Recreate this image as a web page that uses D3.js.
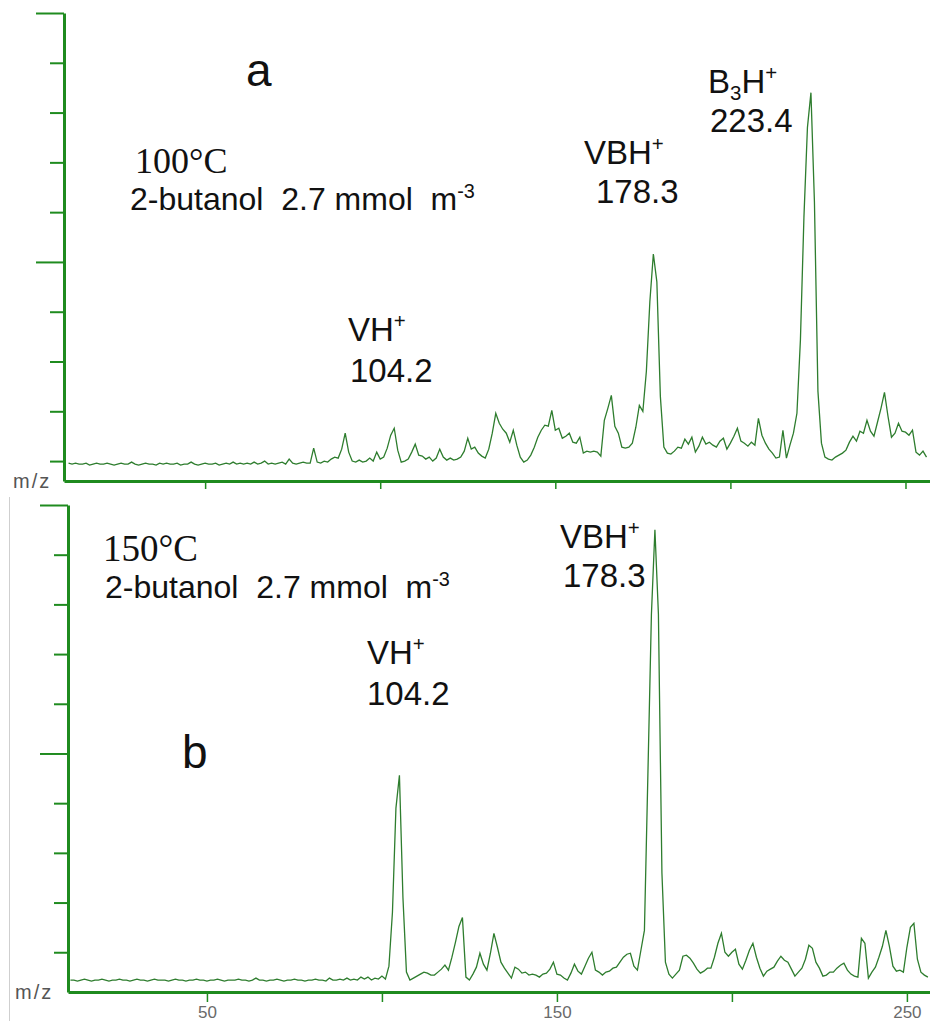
<!DOCTYPE html>
<html>
<head>
<meta charset="utf-8">
<script src="https://cdn.jsdelivr.net/npm/d3@7"></script>
<style>
body { margin: 0; background: #fff; }
svg { display: block; }
</style>
</head>
<body>
<script>
// m/z grid, one point per unit
var mzStart = 11, mzEnd = 256
var mz = d3.range(mzStart, mzEnd + 1)

// panel a, 100 C (arbitrary intensity units)
var trace100 = [
  1.8,1.7,1.8,1.7,1.7,1.8,1.6,1.7,1.8,1.7,
  1.7,1.8,1.7,1.6,1.7,1.8,1.7,1.7,1.9,1.7,
  1.6,1.7,1.8,1.7,1.7,1.6,1.8,1.7,1.8,1.7,
  1.7,1.8,1.6,1.7,1.7,1.9,1.7,1.6,1.7,1.8,
  1.7,1.7,1.8,1.6,1.7,1.8,1.7,1.9,1.7,1.8,
  1.7,1.8,1.7,1.9,1.7,1.8,2.0,1.7,1.8,1.7,
  1.8,1.9,1.7,2.2,1.8,1.7,1.8,1.9,1.8,1.8,
  3.3,1.9,1.8,2.0,1.9,2.2,2.4,2.3,3.2,4.8,
  2.9,2.0,1.9,2.1,1.9,2.0,2.3,2.0,2.9,2.2,
  2.4,3.3,4.6,5.3,3.1,1.9,2.0,2.2,2.9,3.7,
  2.6,2.5,2.2,2.4,2.0,2.3,3.2,2.4,2.1,2.3,
  2.1,2.2,2.4,3.0,4.3,3.2,3.4,2.8,2.5,2.3,
  3.2,4.8,6.8,5.8,5.2,4.8,3.9,5.1,3.6,2.4,
  1.9,2.1,2.6,3.4,4.4,5.1,5.6,5.5,7.1,5.1,
  5.3,4.3,4.5,4.8,3.9,3.8,4.4,2.8,3.0,2.9,
  3.0,2.9,2.5,6.1,7.3,8.6,5.5,4.8,3.4,3.3,
  3.4,3.8,5.4,7.6,7.0,11.0,18.0,22.8,20.0,8.5,
  3.4,2.8,2.7,3.0,3.4,3.3,4.2,3.7,4.4,2.9,
  3.5,4.4,3.7,3.9,3.6,3.4,4.0,4.3,3.2,3.8,
  4.5,5.3,4.0,3.8,3.5,3.9,3.6,6.3,4.6,3.8,
  3.2,2.8,2.3,2.4,5.1,2.3,3.6,4.8,6.8,14.2,
  26.5,35.5,39.0,28.0,9.0,3.8,2.4,2.2,2.1,2.4,
  2.6,2.8,3.1,3.9,4.5,4.0,5.0,4.8,6.1,5.0,
  4.5,5.9,7.3,8.9,6.5,4.4,4.8,5.8,5.0,4.9,
  4.6,5.1,2.9,2.6,3.0,2.4
]

// panel b, 150 C
var trace150 = [
  1.2,1.2,1.1,1.2,1.3,1.2,1.1,1.2,1.2,1.3,
  1.2,1.1,1.2,1.2,1.3,1.2,1.2,1.1,1.2,1.3,
  1.2,1.2,1.1,1.2,1.3,1.2,1.2,1.2,1.1,1.2,
  1.3,1.2,1.2,1.1,1.2,1.2,1.3,1.2,1.2,1.1,
  1.2,1.2,1.3,1.2,1.1,1.2,1.2,1.2,1.3,1.2,
  1.2,1.1,1.2,1.4,1.2,1.2,1.1,1.2,1.2,1.3,
  1.2,1.1,1.2,1.2,1.3,1.2,1.2,1.1,1.2,1.2,
  1.3,1.2,1.2,1.1,1.4,1.2,1.2,1.3,1.2,1.4,
  1.2,1.3,1.2,1.5,1.3,1.5,1.2,1.4,1.3,1.6,
  1.3,2.6,8.0,18.5,21.8,9.5,2.0,1.2,1.4,1.6,
  1.8,2.0,1.9,1.7,1.7,2.0,2.3,2.7,2.2,3.5,
  5.0,6.6,7.5,1.5,1.2,1.8,2.5,3.9,2.8,2.2,
  3.9,5.9,4.5,3.0,2.4,1.9,1.4,2.5,2.3,1.9,
  2.0,1.7,1.8,1.7,1.5,1.8,1.9,2.3,3.0,1.8,
  1.7,1.4,1.2,1.9,2.8,2.1,1.8,2.6,3.4,4.0,
  2.2,2.0,1.7,2.0,2.1,2.4,2.5,3.0,3.5,3.8,
  3.9,2.6,2.2,4.2,6.2,22.0,38.0,46.5,38.0,12.0,
  3.0,1.8,1.4,1.8,2.2,3.6,3.7,3.4,2.9,2.3,
  1.9,2.1,2.4,2.4,3.5,4.9,5.9,4.0,3.6,4.0,
  4.3,2.8,2.3,3.2,4.2,4.9,3.5,2.4,1.6,2.1,
  2.3,2.5,3.1,3.6,3.2,3.0,2.3,1.6,2.0,2.4,
  3.3,4.7,4.4,3.0,2.4,1.6,1.7,2.0,2.0,2.4,
  2.7,2.9,2.2,1.8,1.6,1.5,5.4,4.9,1.4,2.0,
  2.5,3.5,4.6,6.2,4.6,2.6,2.1,2.2,2.0,4.5,
  6.5,6.9,3.3,2.0,1.7,1.5
]

var xTicks = [50, 100, 150, 200, 250]
var xTickLabels = ['50', '', '150', '', '250']
var yTicksA = [2, 7, 12, 17, 22, 27, 32, 37, 42, 47]
var yTicksB = [4, 9, 14, 19, 24, 29, 34, 39, 44, 49]
var longTicksA = [47, 22]
var longTicksB = [49, 24]

var axisGreen = '#1f8b1f'
var lineGreen = '#2e7d2e'
var sans = '"Liberation Sans", Arial, sans-serif'
var serif = '"Liberation Serif", "Times New Roman", serif'

var svg = d3.select('body').append('svg')
    .attr('width', 930)
    .attr('height', 1021)

// thin grey edge of the lower screenshot
svg.append('line')
    .attr('x1', 9.5).attr('x2', 9.5)
    .attr('y1', 497).attr('y2', 1021)
    .attr('stroke', '#cfcfcf')

var panels = [
    { data: trace100, xd: [9.7, 257], xr: [64, 930], yd: [0, 47], yr: [481, 13],
      yTicks: yTicksA, longTicks: longTicksA, showLabels: false, mzY: 488, mzX: 13 },
    { data: trace150, xd: [10.3, 256.6], xr: [68, 930], yd: [0, 49], yr: [992, 505],
      yTicks: yTicksB, longTicks: longTicksB, showLabels: true, mzY: 999, mzX: 15 }
]

panels.forEach(function (p) {
    var x = d3.scaleLinear().domain(p.xd).range(p.xr)
    var y = d3.scaleLinear().domain(p.yd).range(p.yr)

    var line = d3.line()
        .x(function (d, i) { return x(mz[i]) })
        .y(function (d) { return y(d) })

    svg.append('path')
        .datum(p.data)
        .attr('d', line)
        .attr('fill', 'none')
        .attr('stroke', lineGreen)
        .attr('stroke-width', 1.3)

    var yAxis = svg.append('g')
        .attr('transform', 'translate(' + p.xr[0] + ',0)')
        .call(d3.axisLeft(y).tickValues(p.yTicks).tickSize(14).tickSizeOuter(0).tickFormat(''))
    yAxis.select('.domain').attr('stroke', axisGreen).attr('stroke-width', 3)
    yAxis.selectAll('.tick line')
        .attr('stroke', axisGreen)
        .attr('stroke-width', 2)
        .attr('x2', function (d) { return p.longTicks.indexOf(d) >= 0 ? -28 : -14 })

    var xAxis = svg.append('g')
        .attr('transform', 'translate(0,' + p.yr[0] + ')')
        .call(d3.axisBottom(x).tickValues(xTicks).tickSize(p.showLabels ? 10 : 8).tickSizeOuter(0)
            .tickFormat(function (d, i) { return p.showLabels ? xTickLabels[i] : '' }))
    xAxis.select('.domain').attr('stroke', axisGreen).attr('stroke-width', 3)
    xAxis.selectAll('.tick line').attr('stroke', axisGreen).attr('stroke-width', 1.5)
    xAxis.selectAll('.tick text')
        .attr('y', 14)
        .attr('fill', '#6a6a6a')
        .style('font-family', sans)
        .style('font-size', '17px')

    svg.append('text')
        .attr('x', p.mzX).attr('y', p.mzY)
        .attr('fill', '#555')
        .style('font-family', sans)
        .style('font-size', '20px')
        .style('letter-spacing', '2px')
        .text('m/z')
})

// text helper: parts are [string, 'sup' | 'sub' | '']
function label(x, y, parts, size, family) {
    var t = svg.append('text')
        .attr('x', x).attr('y', y)
        .attr('fill', '#111')
        .style('font-family', family || sans)
        .style('font-size', size + 'px')
        .style('white-space', 'pre')
    var shift = 0
    parts.forEach(function (pt) {
        var want = pt[1] === 'sup' ? -0.38 * size : pt[1] === 'sub' ? 0.2 * size : 0
        var s = t.append('tspan')
            .attr('dy', want - shift)
            .text(pt[0])
        if (pt[1]) s.style('font-size', (size * 0.62) + 'px')
        shift = want
    })
}

// panel a
label(246, 86, [['a', '']], 46)
label(135, 173, [['100°C', '']], 36, serif)
label(130, 210, [['2-butanol  2.7 mmol  m', ''], ['-3', 'sup']], 32)
label(348, 341, [['VH', ''], ['+', 'sup']], 33)
label(350, 382, [['104.2', '']], 33)
label(584, 164, [['VBH', ''], ['+', 'sup']], 33)
label(596, 203, [['178.3', '']], 33)
label(708, 93, [['B', ''], ['3', 'sub'], ['H', ''], ['+', 'sup']], 33)
label(710, 132, [['223.4', '']], 33)

// panel b
label(103, 561, [['150°C', '']], 37, serif)
label(105, 598, [['2-butanol  2.7 mmol  m', ''], ['-3', 'sup']], 32)
label(560, 548, [['VBH', ''], ['+', 'sup']], 33)
label(563, 587, [['178.3', '']], 33)
label(367, 664, [['VH', ''], ['+', 'sup']], 33)
label(367, 705, [['104.2', '']], 33)
label(182, 768, [['b', '']], 46)
</script>
</body>
</html>
